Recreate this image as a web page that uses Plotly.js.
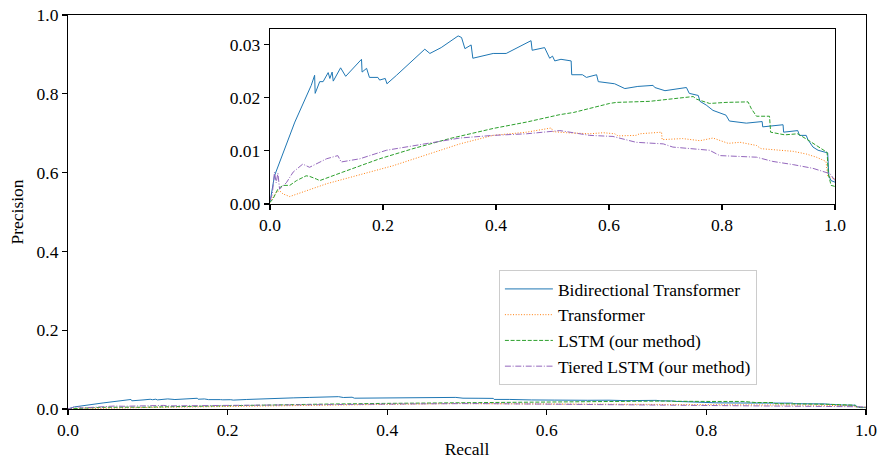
<!DOCTYPE html>
<html>
<head>
<meta charset="utf-8">
<script src="https://cdn.plot.ly/plotly-3.0.1.min.js"></script>
<style>html,body{margin:0;padding:0;background:#fff;}#chart{width:880px;height:459px;}</style>
</head>
<body>
<div id="chart"></div>
<script>
const seriesNames = ["Bidirectional Transformer", "Transformer", "LSTM (our method)", "Tiered LSTM (our method)"];

const recallBi = [
  0, 0.008, 0.044, 0.058, 0.073, 0.079, 0.080, 0.088, 0.094, 0.103,
  0.106, 0.110, 0.112, 0.125, 0.134, 0.162, 0.163, 0.171, 0.176, 0.191,
  0.194, 0.204, 0.207, 0.224, 0.274, 0.283, 0.303, 0.333, 0.339, 0.345,
  0.356, 0.359, 0.383, 0.395, 0.418, 0.462, 0.464, 0.477, 0.486, 0.495,
  0.500, 0.504, 0.515, 0.533, 0.534, 0.553, 0.560, 0.578, 0.581, 0.610,
  0.628, 0.651, 0.678, 0.681, 0.699, 0.737, 0.742, 0.758, 0.761, 0.772,
  0.784, 0.807, 0.813, 0.843, 0.871, 0.872, 0.908, 0.909, 0.934, 0.937,
  0.949, 0.952, 0.961, 0.970, 0.987, 0.989, 0.993, 1.0];
const precBi = [
  0.0003, 0.0053, 0.0154, 0.0189, 0.0223, 0.0242, 0.0208, 0.0230, 0.0230, 0.0247,
  0.0236, 0.0248, 0.0231, 0.0256, 0.0240, 0.0272, 0.0248, 0.0255, 0.0238, 0.0238,
  0.0233, 0.0236, 0.0226, 0.0242, 0.0291, 0.0283, 0.0294, 0.0316, 0.0313, 0.0292,
  0.0299, 0.0274, 0.0280, 0.0283, 0.0283, 0.0307, 0.0289, 0.0292, 0.0294, 0.0274,
  0.0278, 0.0269, 0.0272, 0.0269, 0.0243, 0.0243, 0.0238, 0.0243, 0.0230, 0.0226,
  0.0217, 0.0221, 0.0223, 0.0219, 0.0213, 0.0219, 0.0208, 0.0204, 0.0193, 0.0186,
  0.0176, 0.0167, 0.0156, 0.0152, 0.0155, 0.0145, 0.0149, 0.0135, 0.0138, 0.0129,
  0.0129, 0.0121, 0.0107, 0.0101, 0.0096, 0.0053, 0.0044, 0.0041];

const recallTr = [
  0, 0.006, 0.011, 0.017, 0.023, 0.035, 0.100, 0.218, 0.336, 0.395,
  0.454, 0.498, 0.501, 0.525, 0.566, 0.590, 0.610, 0.616, 0.648, 0.654,
  0.693, 0.694, 0.730, 0.761, 0.784, 0.811, 0.832, 0.861, 0.869, 0.926,
  0.949, 0.967, 0.984, 0.987, 1.0];
const precTr = [
  0.0003, 0.0015, 0.0022, 0.0025, 0.0019, 0.0014, 0.0038, 0.0072, 0.0113, 0.0129,
  0.0135, 0.0143, 0.0136, 0.0134, 0.0132, 0.0134, 0.0132, 0.0128, 0.0129, 0.0132,
  0.0135, 0.0121, 0.0123, 0.0119, 0.0124, 0.0114, 0.0116, 0.0110, 0.0104, 0.0099,
  0.0094, 0.0088, 0.0080, 0.0053, 0.0047];

const recallLstm = [
  0, 0.005, 0.014, 0.023, 0.035, 0.047, 0.064, 0.070, 0.082, 0.088,
  0.129, 0.194, 0.253, 0.318, 0.395, 0.454, 0.513, 0.537, 0.601, 0.613,
  0.672, 0.737, 0.749, 0.755, 0.778, 0.807, 0.846, 0.852, 0.861, 0.884,
  0.886, 0.911, 0.934, 0.954, 0.967, 0.986, 0.988, 0.993, 1.0];
const precLstm = [
  0.0003, 0.0009, 0.0028, 0.0035, 0.0035, 0.0044, 0.0053, 0.0052, 0.0047, 0.0044,
  0.0060, 0.0085, 0.0104, 0.0123, 0.0142, 0.0154, 0.0168, 0.0172, 0.0189, 0.0191,
  0.0193, 0.0201, 0.0202, 0.0197, 0.0189, 0.0191, 0.0192, 0.0179, 0.0165, 0.0165,
  0.0135, 0.0130, 0.0132, 0.0119, 0.0110, 0.0097, 0.0057, 0.0035, 0.0033];

const recallTiered = [
  0, 0.004, 0.008, 0.011, 0.014, 0.017, 0.029, 0.041, 0.058, 0.070,
  0.100, 0.120, 0.126, 0.159, 0.206, 0.277, 0.336, 0.395, 0.454, 0.513,
  0.566, 0.607, 0.648, 0.696, 0.713, 0.778, 0.796, 0.861, 0.890, 0.926,
  0.961, 0.991, 1.0];
const precTiered = [
  0.0007, 0.0018, 0.0060, 0.0040, 0.0058, 0.0028, 0.0040, 0.0060, 0.0075, 0.0069,
  0.0085, 0.0091, 0.0079, 0.0085, 0.0101, 0.0113, 0.0124, 0.0129, 0.0132, 0.0138,
  0.0129, 0.0127, 0.0116, 0.0113, 0.0107, 0.0101, 0.0091, 0.0088, 0.0080, 0.0074,
  0.0067, 0.0057, 0.0044];

const mainTicks = [0, 0.2, 0.4, 0.6, 0.8, 1.0];
const insetYTicks = [0, 0.01, 0.02, 0.03];

const colors = ["#1f77b4", "#ff7f0e", "#2ca02c", "#9467bd"];
const dashes = ["solid", "1px,1.7px", "4px,1.7px", "6px,1.7px,1px,1.7px"];
const xs = [recallBi, recallTr, recallLstm, recallTiered];
const ys = [precBi, precTr, precLstm, precTiered];

const traces = [];
for (let i = 0; i < 4; i++) {
  traces.push({
    x: xs[i], y: ys[i], type: "scatter", mode: "lines", name: seriesNames[i],
    line: {color: colors[i], width: 1, dash: dashes[i]},
    xaxis: "x", yaxis: "y", showlegend: true
  });
}
for (let i = 0; i < 4; i++) {
  traces.push({
    x: xs[i], y: ys[i], type: "scatter", mode: "lines", name: seriesNames[i],
    line: {color: colors[i], width: 1, dash: dashes[i]},
    xaxis: "x2", yaxis: "y2", showlegend: false
  });
}

const font = {family: "Liberation Serif, Times New Roman, serif", size: 17.5, color: "#000"};
const axBase = {
  showgrid: false, zeroline: false, showline: true, linecolor: "#000", linewidth: 1.1,
  mirror: true, ticks: "outside", ticklen: 5, tickwidth: 1.1, tickcolor: "#000",
  tickfont: font
};

const layout = {
  width: 880, height: 459,
  margin: {l: 68, r: 14, t: 15, b: 50},
  paper_bgcolor: "#fff", plot_bgcolor: "rgba(0,0,0,0)",
  font: font,
  xaxis: Object.assign({}, axBase, {
    range: [0, 1], tickvals: mainTicks, tickformat: ".1f", domain: [0, 1],
    title: {text: "Recall", font: font, standoff: 4}
  }),
  yaxis: Object.assign({}, axBase, {
    range: [0, 1], tickvals: mainTicks, tickformat: ".1f", domain: [0, 1],
    title: {text: "Precision", font: font, standoff: 8}
  }),
  xaxis2: Object.assign({}, axBase, {
    range: [0, 1], tickvals: mainTicks, tickformat: ".1f",
    domain: [0.2531, 0.9612], anchor: "y2"
  }),
  yaxis2: Object.assign({}, axBase, {
    range: [0, 0.0329], tickvals: insetYTicks, tickformat: ".2f",
    domain: [0.5203, 0.9645], anchor: "x2"
  }),
  shapes: [{
    type: "rect", xref: "x2 domain", yref: "y2 domain", x0: 0, x1: 1, y0: 0, y1: 1,
    fillcolor: "#fff", line: {width: 0}, layer: "below"
  }],
  legend: {
    x: 0.540, y: 0.3527, xanchor: "left", yanchor: "top",
    bgcolor: "rgba(255,255,255,0.8)", bordercolor: "#cccccc", borderwidth: 1,
    font: font, tracegroupgap: 0, itemwidth: 48
  },
  showlegend: true
};

Plotly.newPlot("chart", traces, layout, {displayModeBar: false, staticPlot: true});
</script>
</body>
</html>
